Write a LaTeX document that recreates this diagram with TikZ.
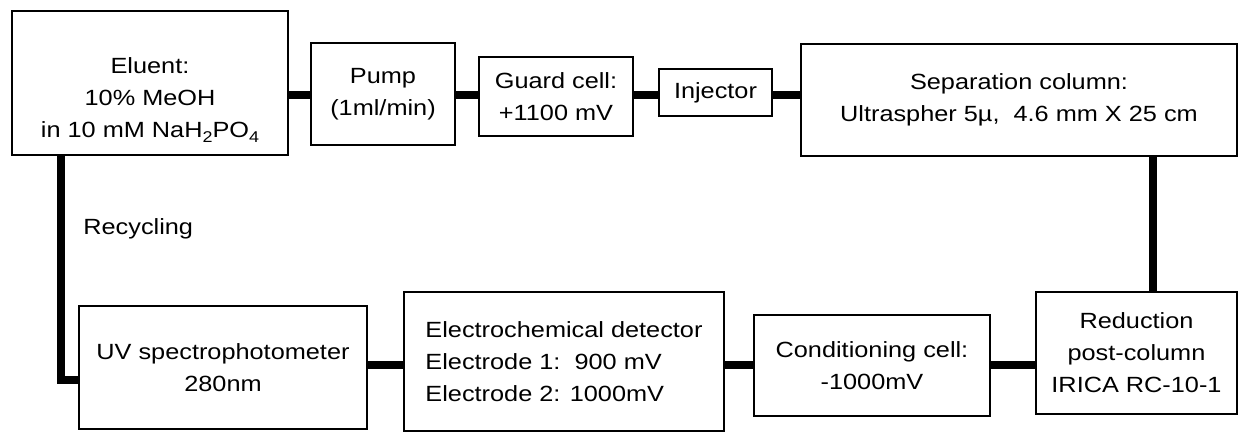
\documentclass[tikz,border=0pt]{standalone}
\usepackage{fontspec}
\setmainfont{Liberation Sans}[FakeStretch=1.15]
\newcommand{\chemsub}[1]{\raisebox{-0.4ex}{\fontsize{7.8}{8}\selectfont #1}}
\begin{document}
\begin{tikzpicture}[x=0.5pt,y=-0.5pt,line width=0.75pt,
		box/.style={draw,inner sep=0pt,align=center,font=\fontsize{11}{16}\selectfont},
		pipe/.style={line width=4pt}]
		\useasboundingbox (0,0) rectangle (1239,432);
		% upper line
		\node[box,minimum width=138pt,minimum height=72pt] (eluent) at (150,83) {\rule{0pt}{25pt}Eluent:\\10\% MeOH\\in 10 mM NaH\chemsub{2}PO\chemsub{4}};
		\node[box,minimum width=72pt,minimum height=51pt] (pump) at (383,94) {Pump\\(1ml/min)};
		\node[box,minimum width=77pt,minimum height=39.5pt] (guard) at (556,96.5) {Guard cell:\\+1100 mV};
		\node[box,minimum width=56.5pt,minimum height=23.5pt] (injector) at (715.5,92.5) {Injector};
		\node[box,minimum width=218pt,minimum height=56pt] (column) at (1019,100) {Separation column:\\Ultraspher 5µ,\ \ 4.6 mm X 25 cm};
		% lower line
		\node[box,minimum width=100.5pt,minimum height=61pt] (reduction) at (1136.5,353) {Reduction\\post-column\\IRICA RC-10-1};
		\node[box,minimum width=118pt,minimum height=50.5pt] (conditioning) at (872,365.5) {Conditioning cell:\\-1000mV};
		\node[box,align=left,minimum width=160pt,minimum height=69.5pt] (detector) at (564,361.5) {Electrochemical detector\\Electrode 1:\ \ 900 mV\\Electrode 2: 1000mV};
		\node[box,minimum width=144pt,minimum height=61.5pt] (uv) at (223,367.5) {UV spectrophotometer\\280nm};
		\node[anchor=west,font=\fontsize{11}{16}\selectfont] (recycling) at (76,229) {Recycling};
		% pipes
		\coordinate (top) at (0,95);
		\coordinate (low) at (0,365);
		\coordinate (drop) at (1153,0);
		\coordinate (back) at (61,380);
		\draw[pipe] (eluent.east |- top) -- (pump.west |- top);
		\draw[pipe] (pump.east |- top) -- (guard.west |- top);
		\draw[pipe] (guard.east |- top) -- (injector.west |- top);
		\draw[pipe] (injector.east |- top) -- (column.west |- top);
		\draw[pipe] (column.south -| drop) -- (reduction.north -| drop);
		\draw[pipe] (reduction.west |- low) -- (conditioning.east |- low);
		\draw[pipe] (conditioning.west |- low) -- (detector.east |- low);
		\draw[pipe] (detector.west |- low) -- (uv.east |- low);
		\draw[pipe] (eluent.south -| back) |- (uv.west |- back);
\end{tikzpicture}
\end{document}
